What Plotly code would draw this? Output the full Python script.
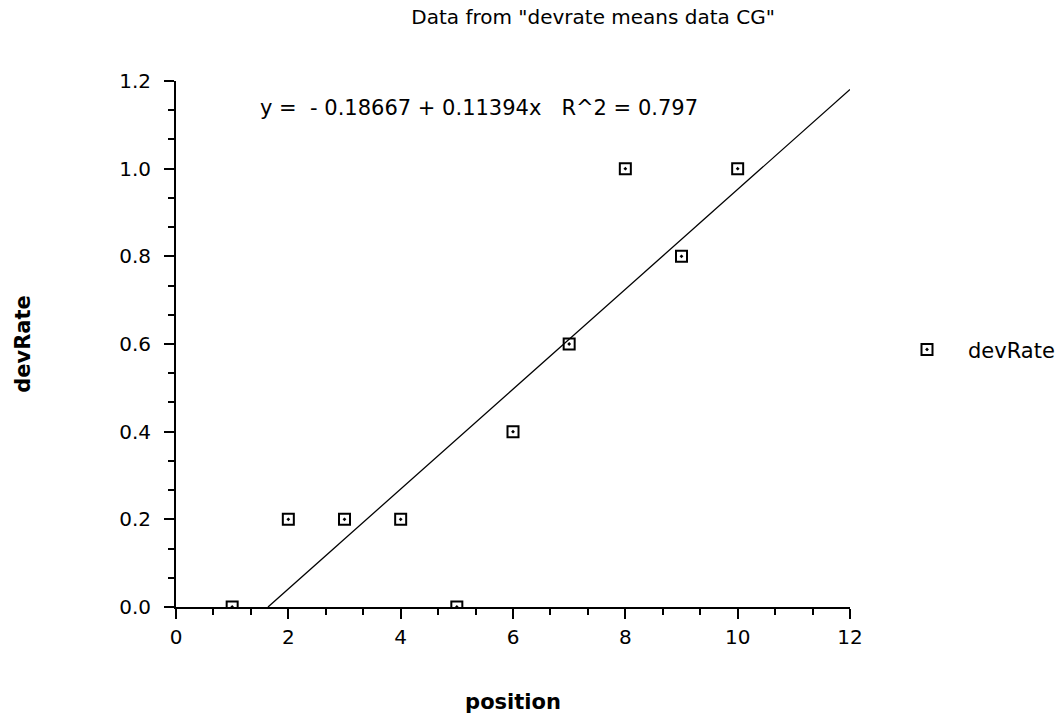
import numpy as np
import plotly.graph_objects as go

# Data
position = [1, 2, 3, 4, 5, 6, 7, 8, 9, 10]
devRate = [0.0, 0.2, 0.2, 0.2, 0.0, 0.4, 0.6, 1.0, 0.8, 1.0]
title_text = 'Data from "devrate means data CG"'
x_ticks = [0, 2, 4, 6, 8, 10, 12]
y_ticks = [0.0, 0.2, 0.4, 0.6, 0.8, 1.0, 1.2]

x = np.array(position, dtype=float)
y = np.array(devRate, dtype=float)
slope, intercept = np.polyfit(x, y, 1)
pred = intercept + slope * x
r2 = 1 - np.sum((y - pred) ** 2) / np.sum((y - y.mean()) ** 2)

# fitted line over visible range (clipped where y >= 0)
x_start = -intercept / slope
fit_x = [x_start, 12]
fit_y = [intercept + slope * v for v in fit_x]

FONT = "DejaVu Sans"

fig = go.Figure()
fig.add_trace(go.Scatter(
    x=fit_x, y=fit_y, mode="lines",
    line=dict(color="black", width=1.3),
    showlegend=False, hoverinfo="skip",
))
fig.add_trace(go.Scatter(
    x=position, y=devRate, mode="markers", name="devRate",
    marker=dict(symbol="square-open-dot", size=11, color="black",
                line=dict(color="black", width=2)),
))

sign = "-" if intercept < 0 else "+"
eq = f"y =  {sign} {abs(intercept):.5f} + {slope:.5f}x   R^2 = {r2:.3f}"
fig.add_annotation(
    text=eq, x=5.39, y=1.138, xref="x", yref="y", showarrow=False,
    font=dict(family=FONT, size=21, color="black"),
)

axis_common = dict(
    showgrid=False, zeroline=False, showline=True, linecolor="black",
    linewidth=2, ticks="outside", ticklen=10, tickwidth=2, tickcolor="black",
    tickfont=dict(family=FONT, size=20, color="black"), automargin=False,
)

fig.update_layout(
    width=1061, height=714,
    margin=dict(l=176, r=211, t=81, b=107, autoexpand=False),
    paper_bgcolor="white", plot_bgcolor="white",
    title=dict(text=title_text, x=0.559, y=1 - 17 / 714, xanchor="center",
               yanchor="middle", xref="container", yref="container",
               font=dict(family=FONT, size=20, color="black")),
    xaxis=dict(range=[0, 12], tickvals=x_ticks, ticktext=[str(v) for v in x_ticks],
               minor=dict(dtick=2 / 3, tick0=0, ticklen=6, tickwidth=2, tickcolor="black", ticks="outside"),
               ticklabelstandoff=1,
               title=dict(text="<b>position</b>", standoff=49,
                          font=dict(family=FONT, size=21, color="black")),
               **axis_common),
    yaxis=dict(range=[0, 1.2], tickvals=y_ticks, ticktext=[f"{v:.1f}" for v in y_ticks],
               minor=dict(dtick=0.2 / 3, tick0=0, ticklen=6, tickwidth=2, tickcolor="black", ticks="outside"),
               ticklabelstandoff=9,
               title=dict(text="<b>devRate</b>", standoff=83,
                          font=dict(family=FONT, size=21, color="black")),
               **axis_common),
    legend=dict(x=(886 - 176) / 674, y=0.489, xanchor="left", yanchor="middle",
                itemwidth=72,
                font=dict(family=FONT, size=21, color="black"),
                bgcolor="rgba(0,0,0,0)"),
)

fig.write_html("out.html")
